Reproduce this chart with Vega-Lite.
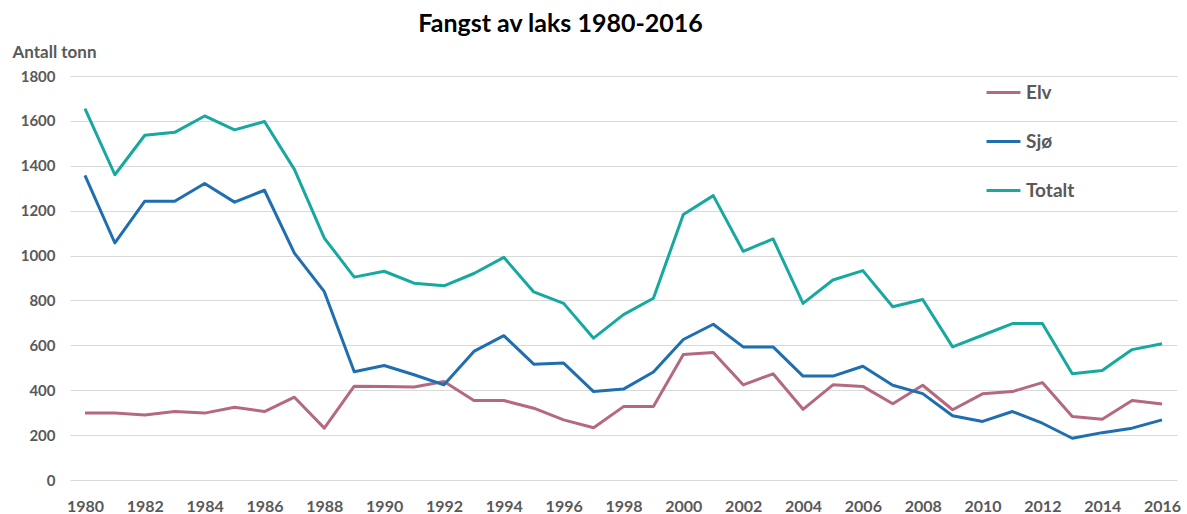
{
  "$schema": "https://vega.github.io/schema/vega-lite/v6.json",
  "autosize": {"type": "none"},
  "width": 1107,
  "height": 404,
  "padding": {"left": 70, "top": 76, "right": 10, "bottom": 34},
  "background": "white",
  "title": {
    "text": "Fangst av laks 1980-2016",
    "font": "Lato",
    "fontSize": 25,
    "fontWeight": "bold",
    "color": "#000000",
    "anchor": "middle",
    "frame": "group",
    "dx": -63,
    "offset": 6
  },
  "config": {
    "view": {"stroke": null},
    "font": "Lato"
  },
  "data": {
    "values": [
      {"year": 1980, "series": "Elv", "value": 298}, {"year": 1980, "series": "Sjø", "value": 1357}, {"year": 1980, "series": "Totalt", "value": 1655},
      {"year": 1981, "series": "Elv", "value": 298}, {"year": 1981, "series": "Sjø", "value": 1056}, {"year": 1981, "series": "Totalt", "value": 1360},
      {"year": 1982, "series": "Elv", "value": 290}, {"year": 1982, "series": "Sjø", "value": 1242}, {"year": 1982, "series": "Totalt", "value": 1536},
      {"year": 1983, "series": "Elv", "value": 305}, {"year": 1983, "series": "Sjø", "value": 1242}, {"year": 1983, "series": "Totalt", "value": 1549},
      {"year": 1984, "series": "Elv", "value": 298}, {"year": 1984, "series": "Sjø", "value": 1321}, {"year": 1984, "series": "Totalt", "value": 1622},
      {"year": 1985, "series": "Elv", "value": 324}, {"year": 1985, "series": "Sjø", "value": 1238}, {"year": 1985, "series": "Totalt", "value": 1560},
      {"year": 1986, "series": "Elv", "value": 305}, {"year": 1986, "series": "Sjø", "value": 1291}, {"year": 1986, "series": "Totalt", "value": 1597},
      {"year": 1987, "series": "Elv", "value": 369}, {"year": 1987, "series": "Sjø", "value": 1011}, {"year": 1987, "series": "Totalt", "value": 1384},
      {"year": 1988, "series": "Elv", "value": 231}, {"year": 1988, "series": "Sjø", "value": 839}, {"year": 1988, "series": "Totalt", "value": 1078},
      {"year": 1989, "series": "Elv", "value": 418}, {"year": 1989, "series": "Sjø", "value": 482}, {"year": 1989, "series": "Totalt", "value": 904},
      {"year": 1990, "series": "Elv", "value": 417}, {"year": 1990, "series": "Sjø", "value": 510}, {"year": 1990, "series": "Totalt", "value": 930},
      {"year": 1991, "series": "Elv", "value": 414}, {"year": 1991, "series": "Sjø", "value": 469}, {"year": 1991, "series": "Totalt", "value": 877},
      {"year": 1992, "series": "Elv", "value": 439}, {"year": 1992, "series": "Sjø", "value": 424}, {"year": 1992, "series": "Totalt", "value": 865},
      {"year": 1993, "series": "Elv", "value": 354}, {"year": 1993, "series": "Sjø", "value": 573}, {"year": 1993, "series": "Totalt", "value": 920},
      {"year": 1994, "series": "Elv", "value": 354}, {"year": 1994, "series": "Sjø", "value": 643}, {"year": 1994, "series": "Totalt", "value": 992},
      {"year": 1995, "series": "Elv", "value": 320}, {"year": 1995, "series": "Sjø", "value": 516}, {"year": 1995, "series": "Totalt", "value": 838},
      {"year": 1996, "series": "Elv", "value": 268}, {"year": 1996, "series": "Sjø", "value": 521}, {"year": 1996, "series": "Totalt", "value": 787},
      {"year": 1997, "series": "Elv", "value": 233}, {"year": 1997, "series": "Sjø", "value": 394}, {"year": 1997, "series": "Totalt", "value": 632},
      {"year": 1998, "series": "Elv", "value": 327}, {"year": 1998, "series": "Sjø", "value": 405}, {"year": 1998, "series": "Totalt", "value": 737},
      {"year": 1999, "series": "Elv", "value": 327}, {"year": 1999, "series": "Sjø", "value": 481}, {"year": 1999, "series": "Totalt", "value": 810},
      {"year": 2000, "series": "Elv", "value": 559}, {"year": 2000, "series": "Sjø", "value": 626}, {"year": 2000, "series": "Totalt", "value": 1183},
      {"year": 2001, "series": "Elv", "value": 568}, {"year": 2001, "series": "Sjø", "value": 694}, {"year": 2001, "series": "Totalt", "value": 1267},
      {"year": 2002, "series": "Elv", "value": 424}, {"year": 2002, "series": "Sjø", "value": 593}, {"year": 2002, "series": "Totalt", "value": 1019},
      {"year": 2003, "series": "Elv", "value": 473}, {"year": 2003, "series": "Sjø", "value": 593}, {"year": 2003, "series": "Totalt", "value": 1074},
      {"year": 2004, "series": "Elv", "value": 315}, {"year": 2004, "series": "Sjø", "value": 463}, {"year": 2004, "series": "Totalt", "value": 787},
      {"year": 2005, "series": "Elv", "value": 424}, {"year": 2005, "series": "Sjø", "value": 463}, {"year": 2005, "series": "Totalt", "value": 891},
      {"year": 2006, "series": "Elv", "value": 417}, {"year": 2006, "series": "Sjø", "value": 507}, {"year": 2006, "series": "Totalt", "value": 933},
      {"year": 2007, "series": "Elv", "value": 340}, {"year": 2007, "series": "Sjø", "value": 422}, {"year": 2007, "series": "Totalt", "value": 772},
      {"year": 2008, "series": "Elv", "value": 422}, {"year": 2008, "series": "Sjø", "value": 385}, {"year": 2008, "series": "Totalt", "value": 804},
      {"year": 2009, "series": "Elv", "value": 313}, {"year": 2009, "series": "Sjø", "value": 286}, {"year": 2009, "series": "Totalt", "value": 593},
      {"year": 2010, "series": "Elv", "value": 384}, {"year": 2010, "series": "Sjø", "value": 261}, {"year": 2010, "series": "Totalt", "value": 645},
      {"year": 2011, "series": "Elv", "value": 394}, {"year": 2011, "series": "Sjø", "value": 305}, {"year": 2011, "series": "Totalt", "value": 697},
      {"year": 2012, "series": "Elv", "value": 434}, {"year": 2012, "series": "Sjø", "value": 253}, {"year": 2012, "series": "Totalt", "value": 697},
      {"year": 2013, "series": "Elv", "value": 283}, {"year": 2013, "series": "Sjø", "value": 186}, {"year": 2013, "series": "Totalt", "value": 473},
      {"year": 2014, "series": "Elv", "value": 271}, {"year": 2014, "series": "Sjø", "value": 211}, {"year": 2014, "series": "Totalt", "value": 488},
      {"year": 2015, "series": "Elv", "value": 354}, {"year": 2015, "series": "Sjø", "value": 231}, {"year": 2015, "series": "Totalt", "value": 581},
      {"year": 2016, "series": "Elv", "value": 339}, {"year": 2016, "series": "Sjø", "value": 268}, {"year": 2016, "series": "Totalt", "value": 607}
    ]
  },
  "mark": {"type": "line", "strokeWidth": 3, "strokeJoin": "round"},
  "encoding": {
    "x": {
      "field": "year",
      "type": "quantitative",
      "scale": {"domain": [1979.5, 2016.5], "nice": false, "zero": false},
      "axis": {
        "values": [1980, 1982, 1984, 1986, 1988, 1990, 1992, 1994, 1996, 1998, 2000, 2002, 2004, 2006, 2008, 2010, 2012, 2014, 2016],
        "format": "d",
        "title": null,
        "grid": false,
        "domain": false,
        "ticks": false,
        "labelPadding": 18,
        "labelFontSize": 16,
        "labelFontWeight": "bold",
        "labelColor": "#595959",
        "labelFont": "Lato"
      }
    },
    "y": {
      "field": "value",
      "type": "quantitative",
      "scale": {"domain": [0, 1800], "nice": false},
      "axis": {
        "values": [0, 200, 400, 600, 800, 1000, 1200, 1400, 1600, 1800],
        "format": "d",
        "title": "Antall tonn",
        "titleAngle": 0,
        "titleAlign": "left",
        "titleBaseline": "middle",
        "titleX": -58,
        "titleY": -24,
        "titleFontSize": 17,
        "titleFontWeight": "bold",
        "titleColor": "#595959",
        "titleFont": "Lato",
        "domain": false,
        "ticks": false,
        "grid": true,
        "gridColor": "#d9d9d9",
        "gridWidth": 1,
        "labelPadding": 15,
        "labelFontSize": 15,
        "labelFontWeight": "bold",
        "labelColor": "#595959",
        "labelFont": "Lato"
      }
    },
    "color": {
      "field": "series",
      "type": "nominal",
      "scale": {"domain": ["Elv", "Sjø", "Totalt"], "range": ["#b5697f", "#1f6eb0", "#17a8a0"]},
      "legend": {
        "title": null,
        "orient": "none",
        "legendX": 915,
        "legendY": -2,
        "symbolType": "stroke",
        "symbolSize": 1150,
        "symbolStrokeWidth": 3,
        "labelFontSize": 19,
        "labelFontWeight": "bold",
        "labelColor": "#595959",
        "labelFont": "Lato",
        "labelOffset": 4,
        "rowPadding": 20
      }
    }
  }
}
